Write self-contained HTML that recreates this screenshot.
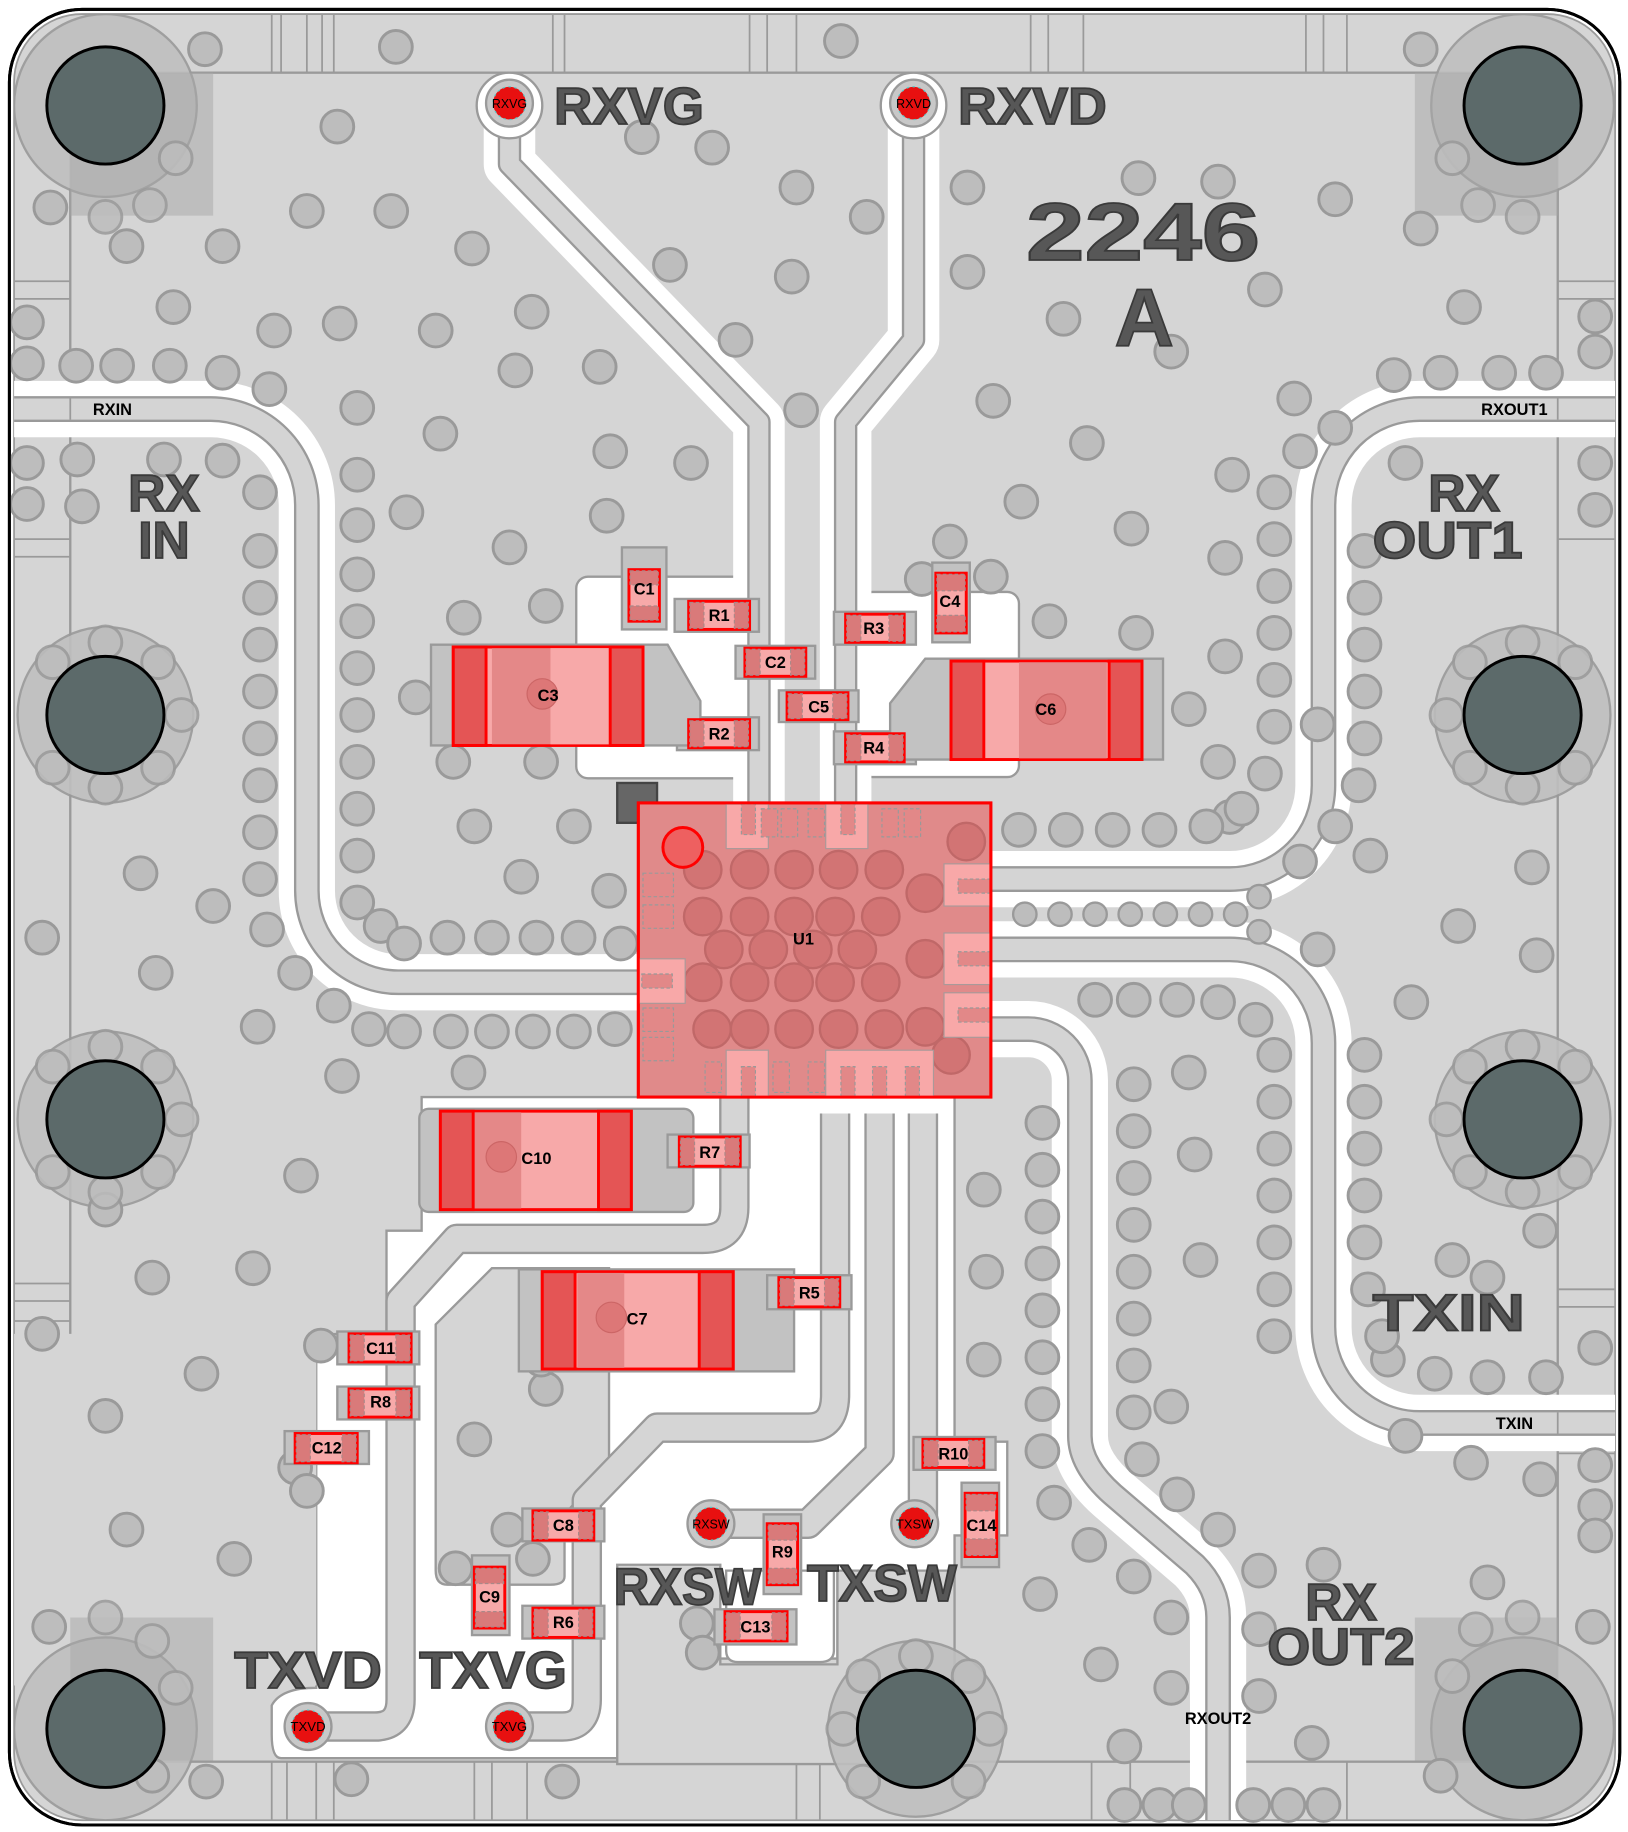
<!DOCTYPE html>
<html><head><meta charset="utf-8"><style>
html,body{margin:0;padding:0;background:#fff;width:1628px;height:1832px;overflow:hidden}
svg{display:block}
.v{fill:#bdbdbd;stroke:#9a9a9a;stroke-width:2.5}
.sv{fill:#bdbdbd;stroke:#9a9a9a;stroke-width:2}
.big{font-family:"Liberation Sans",sans-serif;font-weight:bold;fill:#575757;stroke:#3a3a3a;stroke-width:1.5}
.lbl{font-family:"Liberation Sans",sans-serif;font-weight:bold;font-size:14px;fill:#000}
.body{fill:#c2c2c2;stroke:#9a9a9a;stroke-width:2}
.cp{fill:#f7a9a9;stroke:#ff0000;stroke-width:2.5}
.pad{fill:#d97a7a;stroke:#a88;stroke-width:1;stroke-dasharray:3 2}
.bpad{fill:#e45555;stroke:#ff0000;stroke-width:2.5}
.tw{fill:none;stroke:#fff;stroke-linejoin:round}
.to{fill:none;stroke:#9a9a9a;stroke-linejoin:round}
.ti{fill:none;stroke:#d4d4d4;stroke-linejoin:round}
</style></head><body>
<svg width="1628" height="1832" viewBox="0 0 1390 1563" preserveAspectRatio="none" xmlns="http://www.w3.org/2000/svg">
<defs>
<path id="rxin" d="M12,349 H180 A82,82 0 0 1 262,431 V760 A78,78 0 0 0 340,838 H548"/>
<path id="rxo1" d="M1379,349 H1212 A82,82 0 0 0 1130,431 V670 A80,80 0 0 1 1050,750 H846"/>
<path id="txin" d="M1379,1214 H1212 A82,82 0 0 1 1130,1132 V890 A80,80 0 0 0 1050,810 H846"/>
<path id="rxo2" d="M846,878 H878 A44,44 0 0 1 922,922 V1225 Q922,1250 950,1275 L1020,1335 Q1040,1355 1040,1380 V1553"/>
<path id="rxvg" d="M435,90 V140 L648,360 V690"/>
<path id="rxvd" d="M780,90 V290 L722,360 V690"/>
<clipPath id="bd"><rect x="12" y="12" width="1367" height="1541" rx="58"/></clipPath>
</defs>
<rect x="0" y="0" width="1390" height="1563" fill="#fff"/>
<rect x="8" y="8" width="1375" height="1549" rx="62" fill="#fff" stroke="#000" stroke-width="2.5"/>
<rect x="12" y="12" width="1367" height="1541" rx="58" fill="#d5d5d5" stroke="#9a9a9a" stroke-width="1.5"/>
<g clip-path="url(#bd)">
<rect x="60" y="62" width="1270" height="1441" fill="none" stroke="#9a9a9a" stroke-width="2"/>
<g stroke="#9a9a9a" stroke-width="1.5">
<line x1="232" y1="12" x2="232" y2="62"/><line x1="240" y1="12" x2="240" y2="62"/><line x1="262" y1="12" x2="262" y2="62"/><line x1="275" y1="12" x2="275" y2="62"/><line x1="285" y1="12" x2="285" y2="62"/>
<line x1="472" y1="12" x2="472" y2="62"/><line x1="482" y1="12" x2="482" y2="62"/>
<line x1="640" y1="12" x2="640" y2="62"/><line x1="655" y1="12" x2="655" y2="62"/><line x1="680" y1="12" x2="680" y2="62"/>
<line x1="880" y1="12" x2="880" y2="62"/><line x1="895" y1="12" x2="895" y2="62"/><line x1="925" y1="12" x2="925" y2="62"/>
<line x1="1115" y1="12" x2="1115" y2="62"/><line x1="1130" y1="12" x2="1130" y2="62"/><line x1="1150" y1="12" x2="1150" y2="62"/>
<line x1="232" y1="1503" x2="232" y2="1553"/><line x1="245" y1="1503" x2="245" y2="1553"/><line x1="270" y1="1503" x2="270" y2="1553"/><line x1="285" y1="1503" x2="285" y2="1553"/>
<line x1="405" y1="1503" x2="405" y2="1553"/><line x1="420" y1="1503" x2="420" y2="1553"/><line x1="450" y1="1503" x2="450" y2="1553"/>
<line x1="680" y1="1503" x2="680" y2="1553"/><line x1="700" y1="1503" x2="700" y2="1553"/>
<line x1="932" y1="1503" x2="932" y2="1553"/><line x1="965" y1="1503" x2="965" y2="1553"/><line x1="1150" y1="1503" x2="1150" y2="1553"/>
<line x1="12" y1="240" x2="60" y2="240"/><line x1="12" y1="255" x2="60" y2="255"/><line x1="12" y1="460" x2="60" y2="460"/><line x1="12" y1="475" x2="60" y2="475"/>
<line x1="12" y1="1095" x2="60" y2="1095"/><line x1="12" y1="1110" x2="60" y2="1110"/><line x1="12" y1="1127" x2="60" y2="1127"/><line x1="12" y1="1150" x2="60" y2="1150"/>
<line x1="12" y1="1265" x2="60" y2="1265"/><line x1="12" y1="1282" x2="60" y2="1282"/><line x1="12" y1="1295" x2="60" y2="1295"/>
<line x1="1330" y1="240" x2="1380" y2="240"/><line x1="1330" y1="255" x2="1380" y2="255"/><line x1="1330" y1="460" x2="1380" y2="460"/><line x1="1330" y1="1100" x2="1380" y2="1100"/><line x1="1330" y1="1115" x2="1380" y2="1115"/><line x1="1330" y1="1240" x2="1380" y2="1240"/>
</g>
<g fill="#fff" stroke="#9a9a9a" stroke-width="2">
<rect x="492" y="492" width="160" height="172" rx="10"/>
<rect x="735" y="505" width="135" height="158" rx="10"/>
<path d="M360,936 H815 V1230 H860 V1310 H815 V1340 H715 V1415 H530 V1500 H240 Q232,1500 232,1480 V1455 Q240,1440 270,1440 V1160 Q270,1138 290,1138 H330 V1050 H360 Z"/>
</g>
<g fill="#d5d5d5" stroke="#9a9a9a" stroke-width="2">
<path d="M372,1130 L420,1082 H520 V1250 L482,1292 V1345 Q482,1352 470,1352 H382 Q372,1352 372,1340 Z"/>
<path d="M527,1335 H615 V1420 H715 V1340 H815 V1505 H527 Z"/>
<rect x="12" y="1138" width="258" height="300" stroke="none"/>
</g>
<g fill="#fff" stroke="#9a9a9a" stroke-width="2"><path d="M620,1340 H712 V1408 Q712,1418 700,1418 H630 Q620,1418 620,1408 Z"/></g>
<g fill="#bfbfbf" stroke="#9a9a9a" stroke-width="2" opacity="0.9">
<circle cx="90" cy="90" r="78"/><circle cx="1300" cy="90" r="78"/><circle cx="90" cy="1475" r="78"/><circle cx="1300" cy="1475" r="78"/>
<circle cx="90" cy="610" r="75"/><circle cx="1300" cy="610" r="75"/><circle cx="90" cy="955" r="75"/><circle cx="1300" cy="955" r="75"/><circle cx="782" cy="1475" r="75"/>
</g>
<g fill="#a8a8a8" opacity="0.5"><rect x="60" y="62" width="122" height="122"/><rect x="1208" y="62" width="122" height="122"/><rect x="60" y="1380" width="122" height="122"/><rect x="1208" y="1380" width="122" height="122"/></g>
<g>
<use href="#rxin" class="tw" stroke-width="48"/><use href="#rxo1" class="tw" stroke-width="48"/><use href="#txin" class="tw" stroke-width="48"/><use href="#rxo2" class="tw" stroke-width="48"/>
<use href="#rxvg" class="tw" stroke-width="44"/><use href="#rxvd" class="tw" stroke-width="44"/>
<use href="#rxin" class="to" stroke-width="22"/><use href="#rxo1" class="to" stroke-width="22"/><use href="#txin" class="to" stroke-width="22"/><use href="#rxo2" class="to" stroke-width="22"/>
<use href="#rxvg" class="to" stroke-width="20"/><use href="#rxvd" class="to" stroke-width="20"/>
<use href="#rxin" class="ti" stroke-width="18"/><use href="#rxo1" class="ti" stroke-width="18"/><use href="#txin" class="ti" stroke-width="18"/><use href="#rxo2" class="ti" stroke-width="18"/>
<use href="#rxvg" class="ti" stroke-width="16"/><use href="#rxvd" class="ti" stroke-width="16"/>
<circle cx="435" cy="90" r="28" fill="#fff" stroke="#9a9a9a" stroke-width="2"/><circle cx="780" cy="90" r="28" fill="#fff" stroke="#9a9a9a" stroke-width="2"/>
</g>
</g>
<g fill="none" stroke-linejoin="round">
<g stroke="#9a9a9a" stroke-width="26">
<path d="M263,1473 H320 Q342,1473 342,1450 V1110 L390,1057 H600 Q627,1057 627,1030 V936"/>
<path d="M435,1473 H480 Q501,1473 501,1450 V1280 L561,1218 H690 Q713,1218 713,1190 V950"/>
<path d="M607,1300 H690 L751,1240 V950"/>
<path d="M781,1300 H788 V950"/>
</g>
<g stroke="#d5d5d5" stroke-width="22">
<path d="M263,1473 H320 Q342,1473 342,1450 V1110 L390,1057 H600 Q627,1057 627,1030 V936"/>
<path d="M435,1473 H480 Q501,1473 501,1450 V1280 L561,1218 H690 Q713,1218 713,1190 V950"/>
<path d="M607,1300 H690 L751,1240 V950"/>
<path d="M781,1300 H788 V950"/>
</g>
</g>
<g class="v">
<circle cx="175" cy="42" r="14"/><circle cx="338" cy="40" r="14"/><circle cx="718" cy="35" r="14"/><circle cx="1213" cy="42" r="14"/>
<circle cx="43" cy="177" r="14"/><circle cx="108" cy="210" r="14"/><circle cx="190" cy="210" r="14"/><circle cx="262" cy="180" r="14"/><circle cx="334" cy="180" r="14"/><circle cx="288" cy="108" r="14"/><circle cx="403" cy="212" r="14"/>
<circle cx="148" cy="262" r="14"/><circle cx="234" cy="282" r="14"/><circle cx="290" cy="276" r="14"/><circle cx="372" cy="282" r="14"/><circle cx="454" cy="266" r="14"/>
<circle cx="376" cy="370" r="14"/><circle cx="440" cy="316" r="14"/><circle cx="347" cy="437" r="14"/><circle cx="435" cy="467" r="14"/><circle cx="466" cy="517" r="14"/><circle cx="396" cy="527" r="14"/><circle cx="518" cy="440" r="14"/><circle cx="521" cy="385" r="14"/><circle cx="590" cy="395" r="14"/><circle cx="512" cy="313" r="14"/>
<circle cx="572" cy="226" r="14"/><circle cx="548" cy="117" r="14"/><circle cx="608" cy="126" r="14"/><circle cx="628" cy="290" r="14"/><circle cx="680" cy="160" r="14"/><circle cx="676" cy="236" r="14"/><circle cx="684" cy="350" r="14"/><circle cx="740" cy="185" r="14"/>
<circle cx="826" cy="160" r="14"/><circle cx="826" cy="232" r="14"/><circle cx="848" cy="342" r="14"/><circle cx="872" cy="428" r="14"/><circle cx="908" cy="272" r="14"/><circle cx="928" cy="378" r="14"/><circle cx="972" cy="152" r="14"/><circle cx="1000" cy="300" r="14"/><circle cx="1040" cy="155" r="14"/><circle cx="1052" cy="405" r="14"/><circle cx="1080" cy="247" r="14"/><circle cx="1105" cy="340" r="14"/><circle cx="1140" cy="170" r="14"/><circle cx="1213" cy="195" r="14"/><circle cx="1250" cy="262" r="14"/>
<circle cx="966" cy="451" r="14"/><circle cx="1046" cy="476" r="14"/><circle cx="970" cy="540" r="14"/><circle cx="896" cy="530" r="14"/><circle cx="1046" cy="560" r="14"/><circle cx="811" cy="462" r="14"/><circle cx="846" cy="492" r="14"/><circle cx="1015" cy="605" r="14"/><circle cx="787" cy="494" r="14"/>
<circle cx="305" cy="348" r="14"/><circle cx="355" cy="595" r="14"/><circle cx="387" cy="650" r="14"/><circle cx="462" cy="650" r="14"/><circle cx="405" cy="705" r="14"/><circle cx="490" cy="705" r="14"/><circle cx="520" cy="760" r="14"/><circle cx="445" cy="748" r="14"/>
<circle cx="120" cy="745" r="14"/><circle cx="182" cy="773" r="14"/><circle cx="36" cy="800" r="14"/><circle cx="133" cy="830" r="14"/><circle cx="220" cy="876" r="14"/><circle cx="292" cy="918" r="14"/><circle cx="400" cy="915" r="14"/><circle cx="90" cy="1032" r="14"/><circle cx="257" cy="1003" r="14"/><circle cx="216" cy="1082" r="14"/><circle cx="130" cy="1090" r="14"/><circle cx="172" cy="1172" r="14"/><circle cx="36" cy="1138" r="14"/><circle cx="90" cy="1208" r="14"/><circle cx="200" cy="1330" r="14"/><circle cx="108" cy="1305" r="14"/><circle cx="42" cy="1388" r="14"/><circle cx="176" cy="1520" r="14"/>
<circle cx="274" cy="1148" r="14"/><circle cx="252" cy="1252" r="14"/><circle cx="262" cy="1272" r="14"/><circle cx="405" cy="1228" r="14"/><circle cx="466" cy="1185" r="14"/><circle cx="434" cy="1305" r="14"/><circle cx="389" cy="1338" r="14"/><circle cx="455" cy="1330" r="14"/><circle cx="462" cy="1160" r="14"/>
<circle cx="130" cy="1515" r="14"/><circle cx="300" cy="1518" r="14"/><circle cx="480" cy="1520" r="14"/><circle cx="595" cy="1385" r="14"/><circle cx="600" cy="1410" r="14"/>
<circle cx="960" cy="1490" r="14"/><circle cx="940" cy="1420" r="14"/><circle cx="888" cy="1360" r="14"/><circle cx="1075" cy="1447" r="14"/><circle cx="1120" cy="1487" r="14"/><circle cx="1230" cy="1515" r="14"/><circle cx="1360" cy="1388" r="14"/><circle cx="1270" cy="1350" r="14"/><circle cx="1000" cy="1440" r="14"/><circle cx="1130" cy="1335" r="14"/>
<circle cx="840" cy="1160" r="14"/><circle cx="842" cy="1085" r="14"/><circle cx="840" cy="1015" r="14"/><circle cx="1000" cy="1200" r="14"/><circle cx="1020" cy="985" r="14"/><circle cx="1025" cy="1075" r="14"/><circle cx="1015" cy="915" r="14"/>
<circle cx="1040" cy="650" r="14"/><circle cx="1125" cy="618" r="14"/><circle cx="1170" cy="730" r="14"/><circle cx="1245" cy="790" r="14"/><circle cx="1125" cy="810" r="14"/><circle cx="1205" cy="855" r="14"/><circle cx="1308" cy="740" r="14"/><circle cx="1312" cy="815" r="14"/><circle cx="1050" cy="697" r="14"/>
<circle cx="1240" cy="1075" r="14"/><circle cx="1270" cy="1090" r="14"/><circle cx="1315" cy="1050" r="14"/><circle cx="1200" cy="1225" r="14"/><circle cx="1185" cy="1160" r="14"/><circle cx="1256" cy="1248" r="14"/><circle cx="1315" cy="1262" r="14"/>
</g>
<g class="v">
<circle cx="23" cy="275" r="14"/><circle cx="23" cy="310" r="14"/><circle cx="65" cy="312" r="14"/><circle cx="100" cy="312" r="14"/><circle cx="145" cy="312" r="14"/><circle cx="190" cy="318" r="14"/><circle cx="230" cy="332" r="14"/>
<circle cx="23" cy="395" r="14"/><circle cx="23" cy="430" r="14"/><circle cx="66" cy="392" r="14"/><circle cx="70" cy="432" r="14"/><circle cx="140" cy="392" r="14"/><circle cx="190" cy="393" r="14"/><circle cx="222" cy="420" r="14"/>
<circle cx="222" cy="470" r="14"/><circle cx="222" cy="510" r="14"/><circle cx="222" cy="550" r="14"/><circle cx="222" cy="590" r="14"/><circle cx="222" cy="630" r="14"/><circle cx="222" cy="670" r="14"/><circle cx="222" cy="710" r="14"/><circle cx="222" cy="750" r="14"/><circle cx="228" cy="793" r="14"/><circle cx="252" cy="830" r="14"/><circle cx="285" cy="858" r="14"/><circle cx="315" cy="878" r="14"/><circle cx="345" cy="880" r="14"/><circle cx="385" cy="880" r="14"/><circle cx="420" cy="880" r="14"/><circle cx="455" cy="880" r="14"/><circle cx="490" cy="880" r="14"/><circle cx="525" cy="878" r="14"/>
<circle cx="305" cy="405" r="14"/><circle cx="305" cy="448" r="14"/><circle cx="305" cy="490" r="14"/><circle cx="305" cy="530" r="14"/><circle cx="305" cy="570" r="14"/><circle cx="305" cy="610" r="14"/><circle cx="305" cy="650" r="14"/><circle cx="305" cy="690" r="14"/><circle cx="305" cy="730" r="14"/><circle cx="305" cy="770" r="14"/><circle cx="325" cy="790" r="14"/><circle cx="345" cy="805" r="14"/><circle cx="382" cy="800" r="14"/><circle cx="420" cy="800" r="14"/><circle cx="458" cy="800" r="14"/><circle cx="494" cy="800" r="14"/><circle cx="530" cy="805" r="14"/>
<circle cx="1088" cy="420" r="14"/><circle cx="1088" cy="460" r="14"/><circle cx="1088" cy="500" r="14"/><circle cx="1088" cy="540" r="14"/><circle cx="1088" cy="580" r="14"/><circle cx="1088" cy="620" r="14"/><circle cx="1080" cy="660" r="14"/><circle cx="1060" cy="690" r="14"/><circle cx="1030" cy="705" r="14"/><circle cx="990" cy="708" r="14"/><circle cx="950" cy="708" r="14"/><circle cx="910" cy="708" r="14"/><circle cx="870" cy="708" r="14"/><circle cx="1110" cy="385" r="14"/><circle cx="1140" cy="365" r="14"/>
<circle cx="1165" cy="470" r="14"/><circle cx="1165" cy="510" r="14"/><circle cx="1165" cy="550" r="14"/><circle cx="1165" cy="590" r="14"/><circle cx="1165" cy="630" r="14"/><circle cx="1160" cy="670" r="14"/><circle cx="1140" cy="705" r="14"/><circle cx="1110" cy="735" r="14"/><circle cx="1190" cy="320" r="14"/><circle cx="1230" cy="318" r="14"/><circle cx="1280" cy="318" r="14"/><circle cx="1320" cy="318" r="14"/><circle cx="1362" cy="300" r="14"/><circle cx="1362" cy="270" r="14"/><circle cx="1362" cy="395" r="14"/><circle cx="1362" cy="435" r="14"/><circle cx="1200" cy="395" r="14"/>
<circle cx="968" cy="853" r="14"/><circle cx="1005" cy="853" r="14"/><circle cx="1040" cy="855" r="14"/><circle cx="1072" cy="870" r="14"/><circle cx="1088" cy="900" r="14"/><circle cx="1088" cy="940" r="14"/><circle cx="1088" cy="980" r="14"/><circle cx="1088" cy="1020" r="14"/><circle cx="1088" cy="1060" r="14"/><circle cx="1088" cy="1100" r="14"/><circle cx="1088" cy="1140" r="14"/><circle cx="935" cy="853" r="14"/>
<circle cx="1165" cy="900" r="14"/><circle cx="1165" cy="940" r="14"/><circle cx="1165" cy="980" r="14"/><circle cx="1165" cy="1020" r="14"/><circle cx="1165" cy="1060" r="14"/><circle cx="1168" cy="1100" r="14"/><circle cx="1180" cy="1140" r="14"/><circle cx="1225" cy="1172" r="14"/><circle cx="1270" cy="1175" r="14"/><circle cx="1320" cy="1175" r="14"/><circle cx="1362" cy="1150" r="14"/><circle cx="1362" cy="1250" r="14"/><circle cx="1362" cy="1285" r="14"/><circle cx="1362" cy="1310" r="14"/>
<circle cx="890" cy="958" r="14"/><circle cx="890" cy="998" r="14"/><circle cx="890" cy="1038" r="14"/><circle cx="890" cy="1078" r="14"/><circle cx="890" cy="1118" r="14"/><circle cx="890" cy="1158" r="14"/><circle cx="890" cy="1198" r="14"/><circle cx="890" cy="1238" r="14"/><circle cx="900" cy="1282" r="14"/><circle cx="930" cy="1318" r="14"/><circle cx="968" cy="1345" r="14"/><circle cx="1000" cy="1380" r="14"/>
<circle cx="968" cy="925" r="14"/><circle cx="968" cy="965" r="14"/><circle cx="968" cy="1005" r="14"/><circle cx="968" cy="1045" r="14"/><circle cx="968" cy="1085" r="14"/><circle cx="968" cy="1125" r="14"/><circle cx="968" cy="1165" r="14"/><circle cx="968" cy="1205" r="14"/><circle cx="975" cy="1245" r="14"/><circle cx="1005" cy="1275" r="14"/><circle cx="1040" cy="1305" r="14"/><circle cx="1075" cy="1340" r="14"/><circle cx="1075" cy="1390" r="14"/>
<circle cx="960" cy="1540" r="14"/><circle cx="990" cy="1540" r="14"/><circle cx="1015" cy="1540" r="14"/><circle cx="1070" cy="1540" r="14"/><circle cx="1100" cy="1540" r="14"/><circle cx="1130" cy="1540" r="14"/>
</g>
<g class="sv">
<circle cx="875" cy="780" r="10"/><circle cx="905" cy="780" r="10"/><circle cx="935" cy="780" r="10"/><circle cx="965" cy="780" r="10"/><circle cx="995" cy="780" r="10"/><circle cx="1025" cy="780" r="10"/><circle cx="1055" cy="780" r="10"/><circle cx="1075" cy="795" r="10"/><circle cx="1075" cy="765" r="10"/>
</g>
<g class="v" opacity="0.85">
<circle cx="90" cy="548" r="14"/><circle cx="45" cy="565" r="14"/><circle cx="135" cy="565" r="14"/><circle cx="155" cy="610" r="14"/><circle cx="45" cy="655" r="14"/><circle cx="135" cy="655" r="14"/><circle cx="90" cy="672" r="14"/>
<circle cx="1300" cy="548" r="14"/><circle cx="1255" cy="565" r="14"/><circle cx="1345" cy="565" r="14"/><circle cx="1235" cy="610" r="14"/><circle cx="1255" cy="655" r="14"/><circle cx="1345" cy="655" r="14"/><circle cx="1300" cy="672" r="14"/>
<circle cx="90" cy="893" r="14"/><circle cx="45" cy="910" r="14"/><circle cx="135" cy="910" r="14"/><circle cx="155" cy="955" r="14"/><circle cx="45" cy="1000" r="14"/><circle cx="135" cy="1000" r="14"/><circle cx="90" cy="1017" r="14"/>
<circle cx="1300" cy="893" r="14"/><circle cx="1255" cy="910" r="14"/><circle cx="1345" cy="910" r="14"/><circle cx="1235" cy="955" r="14"/><circle cx="1255" cy="1000" r="14"/><circle cx="1345" cy="1000" r="14"/><circle cx="1300" cy="1017" r="14"/>
<circle cx="782" cy="1413" r="14"/><circle cx="737" cy="1430" r="14"/><circle cx="827" cy="1430" r="14"/><circle cx="720" cy="1475" r="14"/><circle cx="845" cy="1475" r="14"/><circle cx="737" cy="1520" r="14"/><circle cx="827" cy="1520" r="14"/>
<circle cx="150" cy="135" r="14"/><circle cx="128" cy="175" r="14"/><circle cx="90" cy="185" r="14"/><circle cx="1240" cy="135" r="14"/><circle cx="1262" cy="175" r="14"/><circle cx="1300" cy="185" r="14"/>
<circle cx="130" cy="1400" r="14"/><circle cx="150" cy="1440" r="14"/><circle cx="90" cy="1380" r="14"/><circle cx="1260" cy="1390" r="14"/><circle cx="1240" cy="1430" r="14"/><circle cx="1300" cy="1380" r="14"/>
</g>
<g fill="#5c6a6a" stroke="#000" stroke-width="2.5">
<circle cx="90" cy="90" r="50"/><circle cx="1300" cy="90" r="50"/><circle cx="90" cy="1475" r="50"/><circle cx="1300" cy="1475" r="50"/>
<circle cx="90" cy="610" r="50"/><circle cx="1300" cy="610" r="50"/><circle cx="90" cy="955" r="50"/><circle cx="1300" cy="955" r="50"/><circle cx="782" cy="1475" r="50"/>
</g>
<g class="body">
<rect x="531" y="467" width="38" height="70"/><rect x="576" y="511" width="72" height="28"/><rect x="628" y="551" width="68" height="28"/><rect x="712" y="522" width="70" height="28"/><rect x="796" y="480" width="32" height="68"/>
<rect x="665" y="589" width="68" height="27"/><rect x="578" y="612" width="70" height="28"/><rect x="712" y="624" width="70" height="28"/>
<path d="M368,550 H570 L598,598 V636 H368 Z"/><path d="M790,562 H993 V648 H760 V600 Z"/>
<rect x="358" y="946" width="234" height="88" rx="8"/><rect x="570" y="968" width="70" height="28"/>
<rect x="443" y="1083" width="235" height="87"/><rect x="655" y="1088" width="72" height="29"/>
<rect x="288" y="1136" width="70" height="28"/><rect x="288" y="1183" width="70" height="28"/><rect x="243" y="1221" width="72" height="28"/>
<rect x="446" y="1287" width="70" height="28"/><rect x="403" y="1327" width="32" height="68"/><rect x="446" y="1370" width="70" height="28"/>
<rect x="652" y="1292" width="32" height="68"/><rect x="610" y="1373" width="70" height="30"/><rect x="780" y="1226" width="70" height="28"/><rect x="821" y="1265" width="32" height="72"/>
</g>
<g>
<rect class="cp" x="537" y="486" width="26" height="44"/><rect class="pad" x="538" y="487" width="24" height="12"/><rect class="pad" x="538" y="517" width="24" height="12"/>
<rect class="cp" x="588" y="513" width="52" height="24"/><rect class="pad" x="589" y="514" width="12" height="22"/><rect class="pad" x="627" y="514" width="12" height="22"/>
<rect class="cp" x="636" y="553" width="52" height="24"/><rect class="pad" x="637" y="554" width="12" height="22"/><rect class="pad" x="675" y="554" width="12" height="22"/>
<rect class="cp" x="722" y="524" width="50" height="24"/><rect class="pad" x="723" y="525" width="12" height="22"/><rect class="pad" x="759" y="525" width="12" height="22"/>
<rect class="cp" x="799" y="489" width="26" height="51"/><rect class="pad" x="800" y="490" width="24" height="14"/><rect class="pad" x="800" y="525" width="24" height="14"/>
<rect class="cp" x="672" y="591" width="52" height="23"/><rect class="pad" x="673" y="592" width="12" height="21"/><rect class="pad" x="711" y="592" width="12" height="21"/>
<rect class="cp" x="588" y="614" width="52" height="24"/><rect class="pad" x="589" y="615" width="12" height="22"/><rect class="pad" x="627" y="615" width="12" height="22"/>
<rect class="cp" x="722" y="626" width="50" height="24"/><rect class="pad" x="723" y="627" width="12" height="22"/><rect class="pad" x="759" y="627" width="12" height="22"/>
<rect class="cp" x="580" y="970" width="52" height="25"/><rect class="pad" x="581" y="971" width="12" height="23"/><rect class="pad" x="619" y="971" width="12" height="23"/>
<rect class="cp" x="665" y="1090" width="52" height="25"/><rect class="pad" x="666" y="1091" width="12" height="23"/><rect class="pad" x="704" y="1091" width="12" height="23"/>
<rect class="cp" x="298" y="1138" width="53" height="24"/><rect class="pad" x="299" y="1139" width="12" height="22"/><rect class="pad" x="338" y="1139" width="12" height="22"/>
<rect class="cp" x="298" y="1185" width="53" height="24"/><rect class="pad" x="299" y="1186" width="12" height="22"/><rect class="pad" x="338" y="1186" width="12" height="22"/>
<rect class="cp" x="252" y="1223" width="53" height="25"/><rect class="pad" x="253" y="1224" width="12" height="23"/><rect class="pad" x="292" y="1224" width="12" height="23"/>
<rect class="cp" x="455" y="1289" width="52" height="25"/><rect class="pad" x="456" y="1290" width="12" height="23"/><rect class="pad" x="494" y="1290" width="12" height="23"/>
<rect class="cp" x="405" y="1337" width="26" height="52"/><rect class="pad" x="406" y="1338" width="24" height="13"/><rect class="pad" x="406" y="1375" width="24" height="13"/>
<rect class="cp" x="455" y="1372" width="52" height="25"/><rect class="pad" x="456" y="1373" width="12" height="23"/><rect class="pad" x="494" y="1373" width="12" height="23"/>
<rect class="cp" x="655" y="1300" width="26" height="52"/><rect class="pad" x="656" y="1301" width="24" height="13"/><rect class="pad" x="656" y="1338" width="24" height="13"/>
<rect class="cp" x="619" y="1375" width="53" height="25"/><rect class="pad" x="620" y="1376" width="12" height="23"/><rect class="pad" x="659" y="1376" width="12" height="23"/>
<rect class="cp" x="788" y="1228" width="52" height="24"/><rect class="pad" x="789" y="1229" width="12" height="22"/><rect class="pad" x="827" y="1229" width="12" height="22"/>
<rect class="cp" x="824" y="1274" width="27" height="54"/><rect class="pad" x="825" y="1275" width="25" height="14"/><rect class="pad" x="825" y="1313" width="25" height="14"/>
</g>
<g>
<rect class="cp" x="387" y="552" width="162" height="84" fill="#e58a8a"/><rect x="420" y="553" width="100" height="82" fill="#e48888"/><rect x="470" y="553" width="50" height="82" fill="#f7a9a9"/>
<rect class="bpad" x="387" y="552" width="28" height="84"/><rect class="bpad" x="521" y="552" width="28" height="84" fill="#ec5f5f"/><circle cx="463" cy="592" r="13" fill="#d77" stroke="#c66"/>
<rect class="cp" x="812" y="564" width="163" height="84"/><rect x="870" y="565" width="75" height="82" fill="#e48888"/>
<rect class="bpad" x="812" y="564" width="28" height="84" fill="#ec5f5f"/><rect class="bpad" x="947" y="564" width="28" height="84"/><circle cx="897" cy="605" r="13" fill="#d77" stroke="#c66"/>
<rect class="cp" x="376" y="948" width="163" height="84"/><rect x="405" y="949" width="40" height="82" fill="#e48888"/>
<rect class="bpad" x="376" y="948" width="28" height="84"/><rect class="bpad" x="511" y="948" width="28" height="84" fill="#ec5f5f"/><circle cx="428" cy="987" r="13" fill="#d77" stroke="#c66"/>
<rect class="cp" x="463" y="1085" width="163" height="83"/><rect x="493" y="1086" width="40" height="81" fill="#e48888"/>
<rect class="bpad" x="463" y="1085" width="28" height="83"/><rect class="bpad" x="597" y="1085" width="29" height="83" fill="#ec5f5f"/><circle cx="522" cy="1124" r="13" fill="#d77" stroke="#c66"/>
</g>
<rect x="527" y="668" width="34" height="34" fill="#666" stroke="#444" stroke-width="2"/>
<rect x="545" y="685" width="301" height="251" fill="#e08a8a" stroke="#ff0000" stroke-width="2.5"/>
<g fill="#d27474" stroke="#c06868" stroke-width="2">
<circle cx="600" cy="742" r="16"/><circle cx="640" cy="742" r="16"/><circle cx="678" cy="742" r="16"/><circle cx="716" cy="742" r="16"/><circle cx="755" cy="742" r="16"/>
<circle cx="600" cy="782" r="16"/><circle cx="640" cy="782" r="16"/><circle cx="678" cy="782" r="16"/><circle cx="713" cy="782" r="16"/><circle cx="752" cy="782" r="16"/>
<circle cx="618" cy="810" r="16"/><circle cx="656" cy="810" r="16"/><circle cx="694" cy="810" r="16"/><circle cx="732" cy="810" r="16"/>
<circle cx="600" cy="838" r="16"/><circle cx="640" cy="838" r="16"/><circle cx="678" cy="838" r="16"/><circle cx="713" cy="838" r="16"/><circle cx="752" cy="838" r="16"/>
<circle cx="608" cy="878" r="16"/><circle cx="640" cy="878" r="16"/><circle cx="678" cy="878" r="16"/><circle cx="716" cy="878" r="16"/><circle cx="755" cy="878" r="16"/>
<circle cx="825" cy="718" r="16"/><circle cx="790" cy="762" r="16"/><circle cx="790" cy="818" r="16"/><circle cx="790" cy="876" r="16"/><circle cx="812" cy="900" r="16"/>
</g>
<g fill="#f8a8a8" stroke="#a99" stroke-width="1">
<rect x="620" y="686" width="36" height="38"/>
<rect x="705" y="686" width="36" height="38"/>
<rect x="806" y="737" width="40" height="36"/><rect x="806" y="796" width="40" height="44"/><rect x="806" y="847" width="40" height="38"/>
<rect x="545" y="818" width="40" height="38"/>
<rect x="620" y="896" width="36" height="40"/><rect x="705" y="896" width="92" height="40"/>
</g>
<g fill="#e28888" stroke="#999" stroke-width="1" stroke-dasharray="3 2">
<rect x="633" y="686" width="12" height="26"/><rect x="718" y="686" width="12" height="26"/>
<rect x="818" y="750" width="28" height="12"/><rect x="818" y="812" width="28" height="12"/><rect x="818" y="860" width="28" height="12"/>
<rect x="548" y="831" width="26" height="12"/><rect x="633" y="910" width="12" height="26"/><rect x="718" y="910" width="12" height="26"/><rect x="745" y="910" width="12" height="26"/><rect x="773" y="910" width="12" height="26"/>
<rect x="650" y="690" width="14" height="24"/><rect x="667" y="690" width="14" height="24"/><rect x="690" y="690" width="14" height="24"/><rect x="753" y="690" width="14" height="24"/><rect x="772" y="690" width="14" height="24"/>
<rect x="602" y="906" width="14" height="26"/><rect x="660" y="906" width="14" height="26"/><rect x="690" y="906" width="14" height="26"/>
<rect x="549" y="745" width="26" height="20"/><rect x="549" y="772" width="26" height="20"/><rect x="549" y="860" width="26" height="20"/><rect x="549" y="885" width="26" height="20"/>
</g>
<circle cx="583" cy="723" r="17" fill="#ee6060" stroke="#ff0000" stroke-width="2.5"/>
<rect x="545" y="685" width="301" height="251" fill="none" stroke="#ff0000" stroke-width="2.5"/>
<g>
<g fill="#c8c8c8" stroke="#9a9a9a" stroke-width="2"><circle cx="435" cy="88" r="20"/><circle cx="780" cy="88" r="20"/><circle cx="607" cy="1300" r="20"/><circle cx="781" cy="1300" r="20"/><circle cx="263" cy="1473" r="20"/><circle cx="435" cy="1473" r="20"/></g>
<g fill="#e81010" stroke="#5cc" stroke-width="1" stroke-dasharray="2 3"><circle cx="435" cy="88" r="14"/><circle cx="780" cy="88" r="14"/><circle cx="607" cy="1300" r="14"/><circle cx="781" cy="1300" r="14"/><circle cx="263" cy="1473" r="14"/><circle cx="435" cy="1473" r="14"/></g>
<g font-family="Liberation Sans,sans-serif" font-size="11" fill="#000" text-anchor="middle">
<text x="435" y="92" textLength="30" lengthAdjust="spacingAndGlyphs">RXVG</text><text x="780" y="92" textLength="30" lengthAdjust="spacingAndGlyphs">RXVD</text>
<text x="607" y="1304" textLength="32" lengthAdjust="spacingAndGlyphs">RXSW</text><text x="781" y="1304" textLength="32" lengthAdjust="spacingAndGlyphs">TXSW</text>
<text x="263" y="1477" textLength="30" lengthAdjust="spacingAndGlyphs">TXVD</text><text x="435" y="1477" textLength="30" lengthAdjust="spacingAndGlyphs">TXVG</text>
</g>
</g>
<g fill="none" stroke="#9a9a9a" stroke-width="1.5"><line x1="60" y1="340" x2="60" y2="358"/><line x1="1330" y1="340" x2="1330" y2="358"/><line x1="1330" y1="1205" x2="1330" y2="1223"/></g>
<g class="lbl">
<text x="550" y="507" text-anchor="middle">C1</text><text x="614" y="530" text-anchor="middle">R1</text><text x="662" y="570" text-anchor="middle">C2</text><text x="746" y="541" text-anchor="middle">R3</text><text x="811" y="518" text-anchor="middle">C4</text>
<text x="699" y="608" text-anchor="middle">C5</text><text x="614" y="631" text-anchor="middle">R2</text><text x="746" y="643" text-anchor="middle">R4</text>
<text x="468" y="598" text-anchor="middle">C3</text><text x="893" y="610" text-anchor="middle">C6</text><text x="686" y="806" text-anchor="middle">U1</text>
<text x="458" y="993" text-anchor="middle">C10</text><text x="606" y="988" text-anchor="middle">R7</text><text x="544" y="1130" text-anchor="middle">C7</text><text x="691" y="1108" text-anchor="middle">R5</text>
<text x="325" y="1155" text-anchor="middle">C11</text><text x="325" y="1201" text-anchor="middle">R8</text><text x="279" y="1240" text-anchor="middle">C12</text>
<text x="481" y="1306" text-anchor="middle">C8</text><text x="418" y="1367" text-anchor="middle">C9</text><text x="481" y="1389" text-anchor="middle">R6</text>
<text x="668" y="1329" text-anchor="middle">R9</text><text x="645" y="1393" text-anchor="middle">C13</text><text x="814" y="1245" text-anchor="middle">R10</text><text x="838" y="1306" text-anchor="middle">C14</text>
<text x="96" y="354" text-anchor="middle">RXIN</text><text x="1293" y="354" text-anchor="middle">RXOUT1</text><text x="1293" y="1219" text-anchor="middle">TXIN</text><text x="1040" y="1471" text-anchor="middle">RXOUT2</text>
</g>
<g class="big">
<text x="473" y="106" font-size="44" textLength="128" lengthAdjust="spacingAndGlyphs">RXVG</text>
<text x="818" y="106" font-size="44" textLength="127" lengthAdjust="spacingAndGlyphs">RXVD</text>
<text x="876" y="222" font-size="70" textLength="200" lengthAdjust="spacingAndGlyphs">2246</text>
<text x="977" y="295" font-size="70" text-anchor="middle">A</text>
<text x="140" y="436" font-size="44" text-anchor="middle">RX</text><text x="140" y="476" font-size="44" text-anchor="middle">IN</text>
<text x="1250" y="436" font-size="44" text-anchor="middle">RX</text><text x="1172" y="476" font-size="44" textLength="128" lengthAdjust="spacingAndGlyphs">OUT1</text>
<text x="1172" y="1135" font-size="44" textLength="130" lengthAdjust="spacingAndGlyphs">TXIN</text>
<text x="1145" y="1382" font-size="44" text-anchor="middle">RX</text><text x="1082" y="1420" font-size="44" textLength="126" lengthAdjust="spacingAndGlyphs">OUT2</text>
<text x="524" y="1369" font-size="44" textLength="126" lengthAdjust="spacingAndGlyphs">RXSW</text>
<text x="689" y="1366" font-size="44" textLength="128" lengthAdjust="spacingAndGlyphs">TXSW</text>
<text x="200" y="1440" font-size="44" textLength="126" lengthAdjust="spacingAndGlyphs">TXVD</text>
<text x="358" y="1440" font-size="44" textLength="126" lengthAdjust="spacingAndGlyphs">TXVG</text>
</g>
<rect x="8" y="8" width="1375" height="1549" rx="62" fill="none" stroke="#000" stroke-width="2.5"/>
</svg>
</body></html>
